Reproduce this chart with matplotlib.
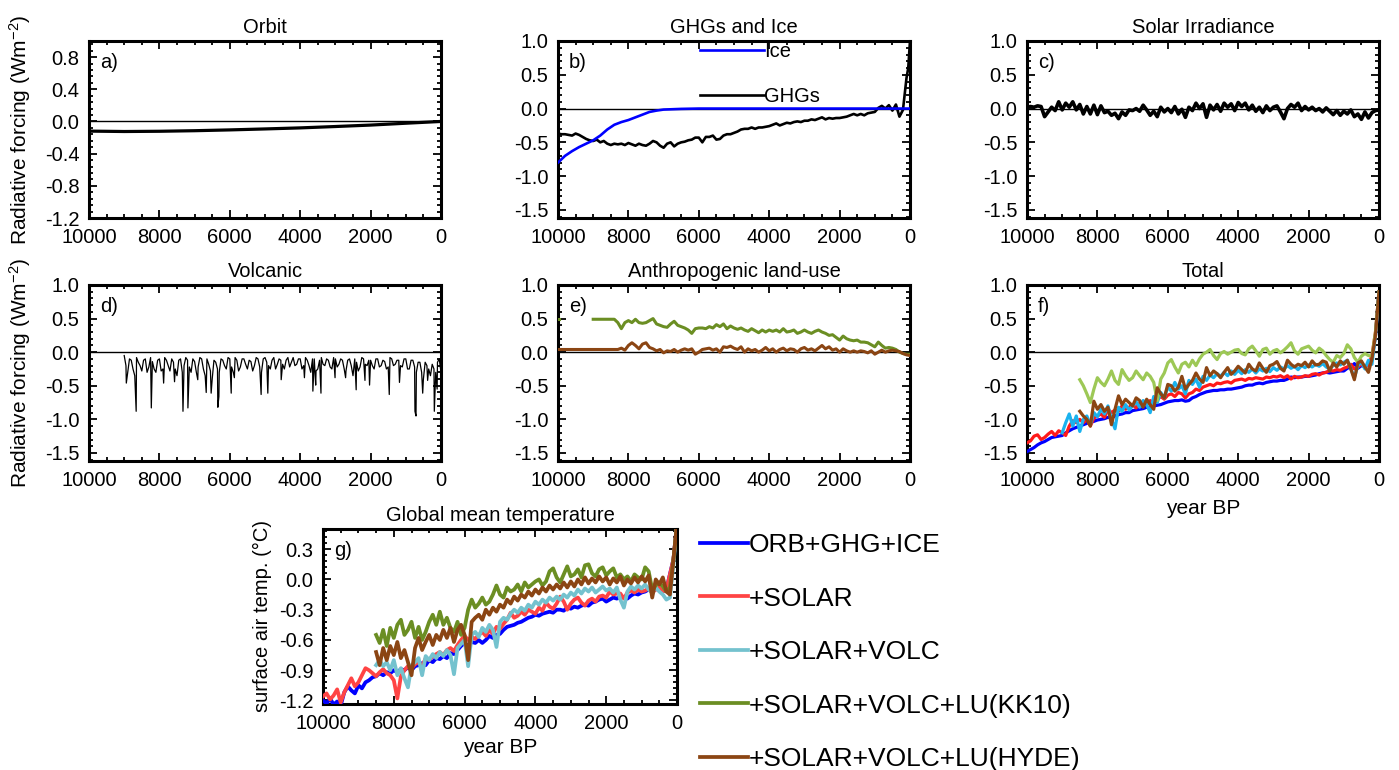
import matplotlib
matplotlib.use("Agg")
import matplotlib.pyplot as plt
from matplotlib.ticker import MultipleLocator, FormatStrFormatter

plt.rcParams['font.family'] = ['Liberation Sans', 'DejaVu Sans']
plt.rcParams['axes.unicode_minus'] = False
plt.rcParams['mathtext.fontset'] = 'custom'
plt.rcParams['mathtext.rm'] = 'Liberation Sans'
plt.rcParams['mathtext.it'] = 'Liberation Sans:italic'
plt.rcParams['mathtext.default'] = 'regular'

# ---------------- data ----------------
YEARS = list(range(10000, -1, -100))          # 101 grid years (BP)

orbit_years = [10000, 9000, 8000, 7000, 6000, 5000, 4000, 3000, 2000, 1000, 0]
orbit_rf = [-0.120, -0.125, -0.122, -0.115, -0.105, -0.093, -0.080, -0.063, -0.045, -0.022, 0.0]

ice_years = [10000, 9800, 9600, 9400, 9200, 9000, 8800, 8600, 8400, 8200, 8000,
             7800, 7600, 7400, 7200, 7000, 6500, 6000, 0]
ice_rf = [-0.80, -0.70, -0.63, -0.57, -0.52, -0.47, -0.40, -0.31, -0.24, -0.20, -0.17,
          -0.13, -0.09, -0.05, -0.03, -0.015, -0.005, 0.0, 0.0]

ghg_years = YEARS[:-1] + [50, 0]
ghg_rf = [
    -0.37, -0.38, -0.38, -0.39, -0.40, -0.37, -0.39, -0.42, -0.45, -0.47,
    -0.48, -0.46, -0.50, -0.48, -0.52, -0.54, -0.52, -0.53, -0.52, -0.54,
    -0.51, -0.53, -0.55, -0.52, -0.54, -0.55, -0.52, -0.48, -0.50, -0.55,
    -0.58, -0.52, -0.50, -0.56, -0.52, -0.50, -0.49, -0.47, -0.46, -0.43,
    -0.43, -0.50, -0.42, -0.42, -0.40, -0.46, -0.45, -0.40, -0.38, -0.38,
    -0.36, -0.34, -0.31, -0.30, -0.30, -0.28, -0.30, -0.28, -0.28, -0.27,
    -0.26, -0.24, -0.22, -0.25, -0.23, -0.21, -0.22, -0.20, -0.19, -0.20,
    -0.18, -0.18, -0.16, -0.17, -0.15, -0.13, -0.16, -0.14, -0.15, -0.14,
    -0.14, -0.13, -0.12, -0.10, -0.08, -0.10, -0.08, -0.10, -0.07, -0.06,
    -0.05, 0.01, 0.04, 0.00, 0.05, -0.03, 0.06, -0.12, -0.02, 0.45,
    0.60, 1.00]

solar_rf = [
    0.02, 0.03, 0.02, 0.04, 0.03, -0.12, -0.05, 0.02, -0.03, 0.10,
    -0.02, 0.08, 0.02, 0.10, -0.02, 0.06, -0.08, 0.03, -0.08, 0.05,
    -0.09, 0.04, -0.06, -0.04, -0.10, -0.07, -0.15, -0.05, -0.10, -0.02,
    -0.03, 0.00, -0.04, 0.05, -0.02, -0.10, -0.04, -0.12, 0.02, -0.05,
    0.00, -0.06, 0.03, -0.08, -0.01, -0.13, 0.02, -0.03, 0.08, 0.00,
    0.07, -0.13, 0.05, -0.02, 0.06, -0.04, 0.08, 0.02, 0.07, -0.03,
    0.09, 0.03, 0.08, -0.02, 0.05, -0.04, 0.02, -0.06, 0.04, -0.03,
    0.02, 0.04, -0.05, -0.15, 0.00, 0.06, 0.02, 0.08, -0.03, 0.03,
    -0.02, 0.02, -0.03, 0.00, -0.05, 0.01, -0.04, -0.09, -0.03, -0.10,
    -0.04, -0.08, -0.02, -0.12, -0.08, -0.16, -0.05, -0.14, -0.06, -0.03,
    -0.02]

volc_base_rf = [
    -0.05, -0.30, -0.12, -0.35, -0.15, -0.28, -0.10, -0.22, -0.14, -0.30,
    -0.10, -0.25, -0.12, -0.28, -0.15, -0.35, -0.10, -0.20, -0.12, -0.30,
    -0.14, -0.22, -0.10, -0.35, -0.18, -0.40, -0.15, -0.30, -0.12, -0.25,
    -0.10, -0.30, -0.12, -0.22, -0.10, -0.25, -0.14, -0.20, -0.10, -0.30,
    -0.08, -0.20, -0.12, -0.25, -0.10, -0.18, -0.12, -0.22, -0.08, -0.18,
    -0.10, -0.20, -0.12, -0.30, -0.10, -0.25, -0.08, -0.20, -0.12, -0.25,
    -0.10, -0.18, -0.12, -0.28, -0.10, -0.35, -0.15, -0.22, -0.10, -0.20,
    -0.12, -0.25, -0.10, -0.20, -0.14, -0.22, -0.10, -0.18, -0.12, -0.22,
    -0.10, -0.25, -0.12, -0.30, -0.15, -0.40, -0.20, -0.35, -0.25, -0.15,
    -0.30]
volc_mid_years = list(range(8950, 0, -100))
volc_mid_rf = [
    -0.20, -0.10, -0.25, -0.08, -0.20, -0.12, -0.30, -0.08, -0.25, -0.12,
    -0.28, -0.08, -0.20, -0.10, -0.25, -0.12, -0.30, -0.08, -0.22, -0.10,
    -0.30, -0.08, -0.25, -0.10, -0.28, -0.12, -0.25, -0.10, -0.20, -0.08,
    -0.22, -0.08, -0.28, -0.10, -0.18, -0.12, -0.28, -0.08, -0.22, -0.10,
    -0.15, -0.25, -0.08, -0.18, -0.12, -0.25, -0.08, -0.15, -0.20, -0.10,
    -0.25, -0.08, -0.20, -0.10, -0.28, -0.12, -0.18, -0.10, -0.22, -0.08,
    -0.22, -0.10, -0.25, -0.12, -0.20, -0.10, -0.28, -0.08, -0.18, -0.12,
    -0.20, -0.10, -0.22, -0.12, -0.25, -0.08, -0.20, -0.12, -0.20, -0.10,
    -0.25, -0.12, -0.22, -0.15, -0.30, -0.15, -0.25, -0.18, -0.30, -0.10]
volc_spike_years = [8940, 8660, 8230, 7880, 7570, 7330, 7190, 6910, 6670, 6530,
                    6340, 6310, 5960, 5870, 5110, 4920, 4540, 3880, 3640, 3560,
                    3410, 3010, 2710, 2410, 2160, 2030, 1470, 1180, 740, 710,
                    520, 380, 190, 110]
volc_spike_rf = [-0.46, -0.88, -0.83, -0.46, -0.44, -0.88, -0.83, -0.41, -0.60, -0.61,
                 -0.82, -0.66, -0.61, -0.38, -0.63, -0.61, -0.41, -0.38, -0.58, -0.49,
                 -0.61, -0.38, -0.38, -0.56, -0.42, -0.49, -0.63, -0.45, -0.88, -0.95,
                 -0.61, -0.42, -0.88, -0.55]

kk10_early_years = [10000, 9960]
kk10_early_rf = [0.49, 0.49]
lu_kk10_rf = [
    0.49, 0.49, 0.49, 0.49, 0.49, 0.49, 0.49, 0.44, 0.35, 0.44,
    0.47, 0.44, 0.49, 0.44, 0.43, 0.44, 0.47, 0.50, 0.42, 0.40,
    0.38, 0.37, 0.42, 0.46, 0.40, 0.38, 0.36, 0.33, 0.28, 0.35,
    0.36, 0.36, 0.35, 0.38, 0.36, 0.41, 0.38, 0.42, 0.35, 0.39,
    0.36, 0.34, 0.36, 0.33, 0.31, 0.35, 0.32, 0.29, 0.33, 0.30,
    0.33, 0.31, 0.33, 0.30, 0.35, 0.30, 0.31, 0.33, 0.28, 0.30,
    0.33, 0.30, 0.28, 0.31, 0.33, 0.30, 0.28, 0.25, 0.26, 0.22,
    0.18, 0.24, 0.20, 0.18, 0.17, 0.18, 0.15, 0.15, 0.14, 0.11,
    0.08, 0.15, 0.10, 0.06, 0.07, 0.06, 0.04, 0.00, -0.02, -0.03,
    -0.03]
lu_hyde_rf = [
    0.04, 0.04, 0.04, 0.04, 0.04, 0.04, 0.04, 0.04, 0.04, 0.04,
    0.04, 0.04, 0.04, 0.04, 0.04, 0.04, 0.04, 0.04, 0.06, 0.03,
    0.10, 0.14, 0.10, 0.05, 0.12, 0.14, 0.07, 0.05, 0.02, 0.04,
    -0.01, 0.02, 0.01, 0.04, 0.00, 0.03, 0.05, 0.03, 0.05, -0.03,
    0.00, 0.04, 0.05, 0.06, 0.03, 0.05, 0.00, 0.08, 0.07, 0.09,
    0.06, 0.04, 0.08, 0.00, 0.05, 0.02, 0.04, 0.00, 0.03, 0.07,
    0.02, 0.05, 0.00, 0.04, 0.06, 0.02, 0.05, 0.04, 0.00, 0.05,
    0.07, 0.03, 0.05, 0.02, 0.06, 0.10, 0.05, 0.08, 0.03, 0.05,
    0.00, 0.05, 0.02, 0.00, 0.02, 0.00, 0.02, 0.01, -0.01, 0.02,
    -0.03, 0.00, 0.03, 0.00, 0.02, 0.03, 0.02, 0.01, -0.02, -0.04,
    -0.05]

# panel f: total forcing
tot_orb = [
    -1.48, -1.45, -1.42, -1.38, -1.35, -1.33, -1.30, -1.27, -1.26, -1.25,
    -1.24, -1.20, -1.17, -1.14, -1.12, -1.10, -1.08, -1.06, -1.04, -1.03,
    -1.01, -1.00, -0.99, -0.97, -0.98, -0.95, -0.93, -0.92, -0.90, -0.90,
    -0.87, -0.86, -0.85, -0.84, -0.82, -0.83, -0.80, -0.79, -0.78, -0.76,
    -0.74, -0.73, -0.72, -0.72, -0.71, -0.73, -0.72, -0.68, -0.66, -0.63,
    -0.61, -0.59, -0.58, -0.57, -0.57, -0.56, -0.56, -0.55, -0.55, -0.54,
    -0.53, -0.52, -0.50, -0.49, -0.49, -0.47, -0.46, -0.47, -0.45, -0.44,
    -0.43, -0.43, -0.42, -0.42, -0.40, -0.37, -0.38, -0.37, -0.37, -0.36,
    -0.36, -0.35, -0.34, -0.32, -0.31, -0.30, -0.31, -0.30, -0.29, -0.28,
    -0.28, -0.24, -0.22, -0.17, -0.24, -0.20, -0.21, -0.18, -0.10, 0.25,
    0.90]
tot_solar = [
    -1.35, -1.32, -1.25, -1.23, -1.30, -1.27, -1.22, -1.18, -1.24, -1.17,
    -1.20, -1.24, -1.10, -1.02, -1.05, -1.00, -1.05, -1.00, -1.10, -0.98,
    -0.95, -0.92, -0.97, -0.85, -0.90, -0.86, -0.88, -0.80, -0.85, -0.82,
    -0.78, -0.83, -0.76, -0.74, -0.78, -0.72, -0.76, -0.70, -0.66, -0.70,
    -0.64, -0.62, -0.66, -0.60, -0.62, -0.68, -0.62, -0.60, -0.55, -0.57,
    -0.52, -0.50, -0.48, -0.50, -0.46, -0.47, -0.45, -0.44, -0.46, -0.42,
    -0.41, -0.40, -0.42, -0.39, -0.40, -0.38, -0.39, -0.40, -0.37, -0.38,
    -0.36, -0.37, -0.35, -0.38, -0.35, -0.40, -0.36, -0.38, -0.37, -0.35,
    -0.36, -0.33, -0.32, -0.34, -0.31, -0.30, -0.27, -0.28, -0.26, -0.27,
    -0.24, -0.22, -0.18, -0.25, -0.22, -0.18, -0.22, -0.20, -0.05, 0.30,
    0.90]
tot_volc = [
    -1.20, -1.05, -0.92, -1.10, -0.95, -1.18, -1.00, -0.95, -1.08, -0.90,
    -0.96, -0.85, -0.92, -0.80, -1.00, -1.14, -0.82, -0.88, -0.78, -0.86,
    -0.80, -0.74, -0.82, -0.72, -0.78, -0.90, -0.66, -0.75, -0.60, -0.68,
    -0.52, -0.58, -0.45, -0.55, -0.50, -0.62, -0.42, -0.48, -0.40, -0.52,
    -0.36, -0.42, -0.34, -0.38, -0.32, -0.36, -0.30, -0.35, -0.28, -0.33,
    -0.27, -0.32, -0.26, -0.30, -0.25, -0.31, -0.25, -0.28, -0.24, -0.29,
    -0.23, -0.27, -0.22, -0.25, -0.20, -0.24, -0.21, -0.26, -0.20, -0.23,
    -0.19, -0.22, -0.18, -0.21, -0.17, -0.22, -0.25, -0.20, -0.16, -0.19,
    -0.15, -0.12, -0.25, -0.38, -0.20, -0.15, -0.25, -0.12, -0.18, 0.25,
    0.90]
tot_kk10 = [
    -0.41, -0.50, -0.62, -0.75, -0.55,
    -0.38, -0.45, -0.50, -0.40, -0.28, -0.42, -0.48, -0.26, -0.35, -0.42,
    -0.38, -0.28, -0.35, -0.41, -0.31, -0.36, -0.45, -0.72, -0.40, -0.31,
    -0.16, -0.11, -0.22, -0.31, -0.18, -0.15, -0.22, -0.12, -0.20, -0.10,
    -0.03, 0.00, 0.04, -0.05, -0.11, -0.02, 0.01, -0.03, 0.00, 0.03,
    0.04, -0.02, -0.04, 0.05, 0.09, 0.02, -0.06, 0.04, 0.06, -0.03,
    0.02, 0.04, -0.01, 0.03, 0.08, 0.14, 0.02, -0.03, 0.05, 0.07,
    0.09, 0.03, -0.01, 0.06, 0.02, -0.05, -0.11, -0.15, -0.05, -0.08,
    -0.02, 0.11, 0.05, -0.08, -0.15, -0.06, -0.02, -0.05, -0.06, 0.30,
    0.90]
tot_hyde = [
    -0.88, -0.95, -1.00, -1.10, -0.73,
    -0.85, -0.78, -0.88, -0.82, -1.08, -0.85, -0.65, -0.78, -0.70, -0.75,
    -0.80, -0.68, -0.72, -0.82, -0.70, -0.78, -0.85, -0.53, -0.62, -0.68,
    -0.48, -0.50, -0.58, -0.52, -0.36, -0.55, -0.48, -0.42, -0.31, -0.40,
    -0.45, -0.23, -0.35, -0.28, -0.32, -0.38, -0.30, -0.23, -0.33, -0.28,
    -0.21, -0.26, -0.31, -0.18, -0.25, -0.28, -0.16, -0.24, -0.30, -0.20,
    -0.18, -0.14, -0.24, -0.28, -0.12, -0.18, -0.22, -0.18, -0.20, -0.15,
    -0.22, -0.13, -0.19, -0.18, -0.13, -0.15, -0.28, -0.16, -0.22, -0.13,
    -0.18, -0.12, -0.25, -0.41, -0.16, -0.13, -0.22, -0.30, -0.10, 0.25,
    0.90]

# panel g: global mean temperature
sat_orb = [
    -1.20, -1.23, -1.18, -1.24, -1.21, -1.25, -1.12, -1.06, -1.10, -1.13,
    -1.05, -1.08, -1.02, -1.00, -0.97, -0.96, -0.93, -0.95, -0.92, -0.93,
    -0.90, -0.92, -0.89, -0.90, -0.87, -0.90, -0.86, -0.85, -0.83, -0.85,
    -0.80, -0.82, -0.78, -0.79, -0.76, -0.78, -0.73, -0.74, -0.70, -0.66,
    -0.63, -0.66, -0.62, -0.63, -0.60, -0.63, -0.60, -0.56, -0.58, -0.55,
    -0.54, -0.50, -0.47, -0.46, -0.45, -0.43, -0.42, -0.40, -0.38, -0.37,
    -0.35, -0.36, -0.34, -0.33, -0.32, -0.33, -0.30, -0.30, -0.31, -0.28,
    -0.29, -0.27, -0.28, -0.26, -0.25, -0.26, -0.23, -0.22, -0.20, -0.19,
    -0.22, -0.20, -0.18, -0.19, -0.17, -0.18, -0.19, -0.16, -0.14, -0.15,
    -0.13, -0.12, -0.10, -0.12, -0.09, -0.11, -0.12, -0.10, 0.05, 0.20,
    0.55]
sat_solar = [
    -1.16, -1.13, -1.19, -1.15, -1.09, -1.22, -1.12, -1.05, -0.98, -1.06,
    -1.02, -0.95, -0.88, -0.90, -0.93, -0.96, -0.92, -0.89, -0.93, -0.95,
    -1.00, -1.18, -0.96, -0.90, -0.86, -0.88, -0.84, -0.82, -0.86, -0.78,
    -0.80, -0.76, -0.74, -0.72, -0.75, -0.70, -0.68, -0.71, -0.65, -0.60,
    -0.56, -0.60, -0.57, -0.59, -0.55, -0.52, -0.56, -0.50, -0.54, -0.47,
    -0.49, -0.44, -0.40, -0.33, -0.38, -0.36, -0.32, -0.35, -0.30, -0.32,
    -0.34, -0.28, -0.31, -0.23, -0.27, -0.29, -0.24, -0.17, -0.22, -0.30,
    -0.24, -0.20, -0.18, -0.23, -0.26, -0.21, -0.19, -0.22, -0.17, -0.16,
    -0.18, -0.12, -0.15, -0.14, -0.14, -0.19, -0.13, -0.11, -0.13, -0.10,
    -0.12, -0.11, -0.09, -0.13, -0.10, -0.08, -0.12, -0.10, 0.05, 0.20,
    0.55]
sat_volc = [
    -0.85, -0.80, -0.86, -0.82, -0.90,
    -0.80, -0.95, -0.88, -0.98, -1.07, -0.85, -0.82, -0.78, -0.95, -0.76,
    -0.80, -0.74, -0.78, -0.72, -0.76, -0.70, -0.75, -0.94, -0.68, -0.64,
    -0.60, -0.86, -0.55, -0.52, -0.57, -0.48, -0.52, -0.45, -0.50, -0.67,
    -0.42, -0.38, -0.40, -0.34, -0.30, -0.33, -0.28, -0.31, -0.25, -0.28,
    -0.22, -0.25, -0.20, -0.23, -0.18, -0.21, -0.17, -0.20, -0.15, -0.18,
    -0.13, -0.16, -0.10, -0.14, -0.09, -0.12, -0.08, -0.13, -0.10, -0.07,
    -0.11, -0.09, -0.13, -0.08, -0.20, -0.28, -0.12, -0.07, -0.10, -0.06,
    -0.09, -0.05, -0.10, -0.13, -0.08, -0.12, -0.15, -0.20, -0.18, 0.15,
    0.55]
sat_kk10 = [
    -0.55, -0.63, -0.50, -0.66, -0.48,
    -0.58, -0.45, -0.40, -0.55, -0.50, -0.42, -0.58, -0.47, -0.60, -0.52,
    -0.42, -0.35, -0.45, -0.32, -0.45, -0.38, -0.48, -0.52, -0.42, -0.55,
    -0.48, -0.30, -0.20, -0.28, -0.24, -0.18, -0.25, -0.22, -0.15, -0.06,
    -0.15, -0.18, -0.08, -0.12, -0.10, -0.05, -0.12, -0.03, -0.08, -0.05,
    -0.02, 0.00, -0.06, -0.02, 0.08, 0.11, 0.02, -0.03, 0.05, 0.13,
    0.03, 0.05, 0.10, 0.02, 0.14, 0.15, 0.06, 0.03, 0.10, 0.12,
    0.04, 0.08, 0.11, 0.02, 0.05, 0.00, 0.03, -0.02, 0.05, 0.02,
    0.00, 0.12, 0.08, -0.10, -0.06, -0.03, -0.07, -0.12, -0.08, 0.20,
    0.55]
sat_hyde = [
    -0.72, -0.85, -0.68, -0.80, -0.66,
    -0.75, -0.62, -0.78, -0.70, -0.82, -0.95, -0.68, -0.58, -0.70, -0.62,
    -0.55, -0.65, -0.55, -0.60, -0.50, -0.58, -0.48, -0.62, -0.50, -0.45,
    -0.55, -0.80, -0.42, -0.38, -0.35, -0.40, -0.30, -0.35, -0.28, -0.32,
    -0.25, -0.28, -0.20, -0.24, -0.17, -0.21, -0.15, -0.18, -0.12, -0.16,
    -0.10, -0.14, -0.08, -0.12, -0.06, -0.10, -0.05, -0.09, -0.03, -0.08,
    -0.02, -0.07, 0.00, -0.05, 0.02, -0.04, 0.01, -0.03, 0.03, -0.02,
    0.02, -0.05, 0.01, -0.03, 0.03, -0.06, 0.00, -0.04, 0.02, -0.03,
    0.03, -0.02, 0.04, -0.18, 0.00, -0.05, 0.02, -0.12, -0.15, 0.20,
    0.55]

legend_labels = ['ORB+GHG+ICE', '+SOLAR', '+SOLAR+VOLC',
                 '+SOLAR+VOLC+LU(KK10)', '+SOLAR+VOLC+LU(HYDE)']
colors_g = ['#0000FF', '#FF4444', '#74C2CE', '#6B8E23', '#8B4513']
colors_f = ['#0000FF', '#FF1A1A', '#1AB2EE', '#9DC856', '#8B4513']


def yrs(vals):
    return YEARS[len(YEARS) - len(vals):]


# ---------------- layout ----------------
W, H = 1399, 770
fig = plt.figure(figsize=(W / 100, H / 100), dpi=100)


def add_ax(left, top, width, height):
    return fig.add_axes([left / W, 1 - (top + height) / H, width / W, height / H])


FS = 14.5
cols = [89, 558, 1027]
ax_a = add_ax(cols[0], 41, 352, 177)
ax_b = add_ax(cols[1], 41, 352, 177)
ax_c = add_ax(cols[2], 41, 352, 177)
ax_d = add_ax(cols[0], 285, 352, 176)
ax_e = add_ax(cols[1], 285, 352, 176)
ax_f = add_ax(cols[2], 285, 352, 176)
ax_g = add_ax(323, 529, 354, 175)


def style(ax, ylim, yticks, yminor, title, label, zero=True):
    ax.set_xlim(10000, 0)
    ax.set_xticks(range(10000, -1, -2000))
    ax.xaxis.set_minor_locator(MultipleLocator(500))
    ax.set_ylim(*ylim)
    ax.set_yticks(yticks)
    ax.yaxis.set_minor_locator(MultipleLocator(yminor))
    ax.yaxis.set_major_formatter(FormatStrFormatter('%.1f'))
    ax.tick_params(which='both', direction='in', top=True, right=True,
                   labelsize=FS, width=1.3, pad=7, color='k')
    ax.tick_params(which='major', length=6)
    ax.tick_params(which='minor', length=3)
    for s in ax.spines.values():
        s.set_linewidth(2.2)
    ax.set_title(title, fontsize=FS, pad=6)
    ax.text(0.031, 0.88, label, transform=ax.transAxes, fontsize=FS,
            ha='left', va='center')
    if zero:
        ax.axhline(0, color='k', lw=1.0, zorder=1)


rf_ticks = [-1.5, -1.0, -0.5, 0.0, 0.5, 1.0]
rf_lim = (-1.62, 1.0)

# a) Orbit
style(ax_a, (-1.2, 1.0), [-1.2, -0.8, -0.4, 0.0, 0.4, 0.8], 0.08, 'Orbit', 'a)')
ax_a.plot(orbit_years, orbit_rf, color='k', lw=2.3)

# b) GHGs and Ice
style(ax_b, rf_lim, rf_ticks, 0.1, 'GHGs and Ice', 'b)')
l_ghg, = ax_b.plot(ghg_years, ghg_rf, color='k', lw=1.9, zorder=3)
l_ice, = ax_b.plot(ice_years, ice_rf, color='#0000FF', lw=1.9, zorder=4)
ax_b.legend([l_ice, l_ghg], ['Ice', 'GHGs'], loc='upper left',
            bbox_to_anchor=(700 / W, 1 - 42 / H), bbox_transform=fig.transFigure,
            frameon=False, fontsize=FS, handlelength=3.2, handletextpad=0.0,
            labelspacing=1.3, borderpad=0, borderaxespad=0)

# c) Solar
style(ax_c, rf_lim, rf_ticks, 0.1, 'Solar Irradiance', 'c)')
ax_c.plot(YEARS, solar_rf, color='k', lw=2.6, zorder=3)

# d) Volcanic
style(ax_d, rf_lim, rf_ticks, 0.1, 'Volcanic', 'd)')
volc_pts = sorted(zip(yrs(volc_base_rf) + volc_mid_years + volc_spike_years,
                      volc_base_rf + volc_mid_rf + volc_spike_rf), key=lambda p: -p[0])
ax_d.plot([p[0] for p in volc_pts], [p[1] for p in volc_pts], color='k', lw=0.9, zorder=3)

# e) Land use
style(ax_e, rf_lim, rf_ticks, 0.1, 'Anthropogenic land-use', 'e)')
ax_e.plot(kk10_early_years, kk10_early_rf, color='#6B8E23', lw=2.2, zorder=3)
ax_e.plot(yrs(lu_kk10_rf), lu_kk10_rf, color='#6B8E23', lw=2.2, zorder=3)
ax_e.plot(YEARS, lu_hyde_rf, color='#8B4513', lw=2.2, zorder=3)

# f) Total
style(ax_f, rf_lim, rf_ticks, 0.1, 'Total', 'f)')
for vals, c in zip([tot_orb, tot_solar, tot_volc, tot_kk10, tot_hyde], colors_f):
    ax_f.plot(yrs(vals), vals, color=c, lw=2.3, zorder=3)
ax_f.set_xlabel('year BP', fontsize=15)
ax_f.xaxis.set_label_coords(0.5, -0.216)

# ylabel for rows
for ax in (ax_a, ax_d):
    ax.set_ylabel('Radiative forcing (Wm$^{-2}$)', fontsize=15)
    ax.yaxis.set_label_coords(-0.159, 0.5)

# g) Global mean temperature
style(ax_g, (-1.235, 0.5), [-1.2, -0.9, -0.6, -0.3, 0.0, 0.3], 0.06,
      'Global mean temperature', 'g)', zero=False)
g_lines = []
for vals, c in zip([sat_orb, sat_solar, sat_volc, sat_kk10, sat_hyde], colors_g):
    ln, = ax_g.plot(yrs(vals), vals, color=c, lw=2.7, zorder=3)
    g_lines.append(ln)
ax_g.set_xlabel('year BP', fontsize=15)
ax_g.xaxis.set_label_coords(0.5, -0.194)
ax_g.set_ylabel('surface air temp. (°C)', fontsize=14.5)
ax_g.yaxis.set_label_coords(-0.144, 0.5)

fig.legend(g_lines, legend_labels, loc='upper left',
           bbox_to_anchor=(700 / W, 1 - 533 / H), bbox_transform=fig.transFigure,
           frameon=False, fontsize=19, handlelength=1.8, handletextpad=0.05,
           labelspacing=1.12, borderpad=0, borderaxespad=0)

fig.savefig('out.png', dpi=100)
